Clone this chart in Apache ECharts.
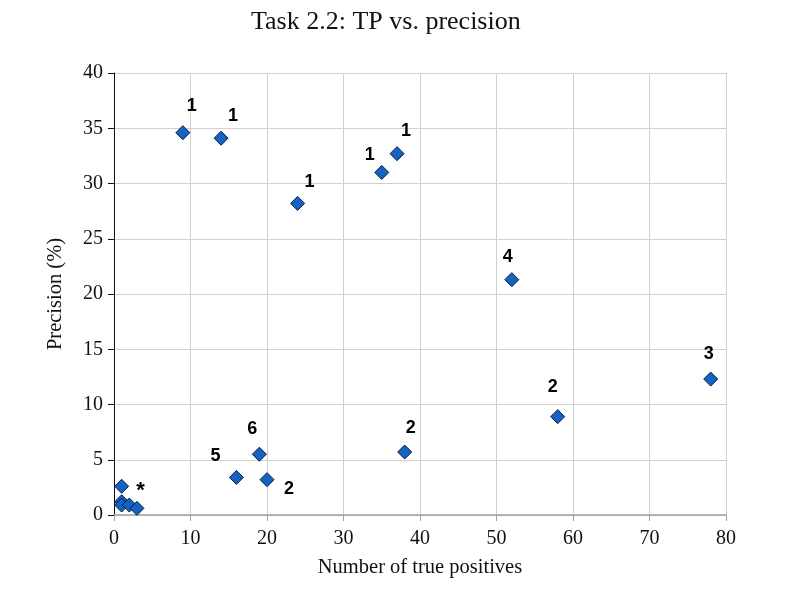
<!DOCTYPE html>
<html lang="en">
<head>
    <meta charset="UTF-8">
    <title>Task 2.2: TP vs. precision</title>
    <style>
        html, body { margin: 0; padding: 0; background: #fff; }
        #main { width: 785px; height: 597px; }
    </style>
</head>
<body>
<div id="main"></div>
<script src="https://cdn.jsdelivr.net/npm/echarts@6/dist/echarts.min.js"></script>
<script>
    // data
    const truePositives = [9, 14, 24, 35, 37, 52, 78, 58, 38, 19, 16, 20, 1, 1, 1, 2, 3];
    const precision = [34.6, 34.1, 28.2, 31.0, 32.7, 21.3, 12.3, 8.9, 5.7, 5.5, 3.4, 3.2, 2.6, 1.2, 0.9, 0.9, 0.6];
    const pointLabels = ['1', '1', '1', '1', '1', '4', '3', '2', '2', '6', '5', '2', '*', '', '', '', ''];

    // where each label sits relative to its point (layout only)
    const labelOffsets = [
        [9, -27], [12, -22], [12, -21], [-12, -17], [9, -23], [-4, -23], [-2, -25],
        [-5, -30], [6, -24], [-7, -25], [-21, -21], [22, 9], [19, 5],
        [0, 0], [0, 0], [0, 0], [0, 0]
    ];

    const serif = '"Liberation Serif", "DejaVu Serif", serif';

    const points = truePositives.map((x, i) => ({
        value: [x, precision[i]],
        label: {
            show: pointLabels[i] !== '',
            formatter: pointLabels[i],
            position: 'inside',
            offset: labelOffsets[i],
            fontSize: pointLabels[i] === '*' ? 22 : 18
        }
    }));

    const myChart = echarts.init(document.getElementById('main'));
    myChart.setOption({
        animation: false,
        backgroundColor: '#fff',
        title: {
            text: 'Task 2.2: TP vs. precision',
            left: 246,
            top: 4,
            textStyle: { fontFamily: serif, fontSize: 26, fontWeight: 'normal', color: '#111' }
        },
        grid: { left: 114, right: 59, top: 73, bottom: 82 },
        xAxis: {
            type: 'value',
            min: 0, max: 80, interval: 10,
            name: 'Number of true positives',
            nameLocation: 'middle',
            nameGap: 42,
            nameTextStyle: { fontFamily: serif, fontSize: 20.5, color: '#111' },
            axisLine: { show: true, lineStyle: { color: '#a0a0a0', width: 1.5 } },
            axisTick: { show: true, length: 6, lineStyle: { color: '#a0a0a0' } },
            axisLabel: { fontFamily: serif, fontSize: 20, color: '#111', margin: 14 },
            splitLine: { show: true, lineStyle: { color: '#d0d0d0' } }
        },
        yAxis: {
            type: 'value',
            min: 0, max: 40, interval: 5,
            name: 'Precision (%)',
            nameLocation: 'middle',
            nameGap: 48,
            nameTextStyle: { fontFamily: serif, fontSize: 20.5, color: '#111' },
            axisLine: { show: true, lineStyle: { color: '#111', width: 1 } },
            axisTick: { show: true, length: 6, lineStyle: { color: '#111' } },
            axisLabel: { fontFamily: serif, fontSize: 20, color: '#111', margin: 11 },
            splitLine: { show: true, lineStyle: { color: '#d0d0d0' } }
        },
        series: [{
            type: 'scatter',
            symbol: 'diamond',
            symbolSize: 14,
            itemStyle: { color: '#1562c2', borderColor: '#081c40', borderWidth: 1, opacity: 1 },
            label: {
                fontFamily: '"Liberation Sans", Arial, sans-serif',
                fontWeight: 'bold',
                fontSize: 18,
                color: '#000'
            },
            data: points
        }]
    });
</script>
</body>
</html>
